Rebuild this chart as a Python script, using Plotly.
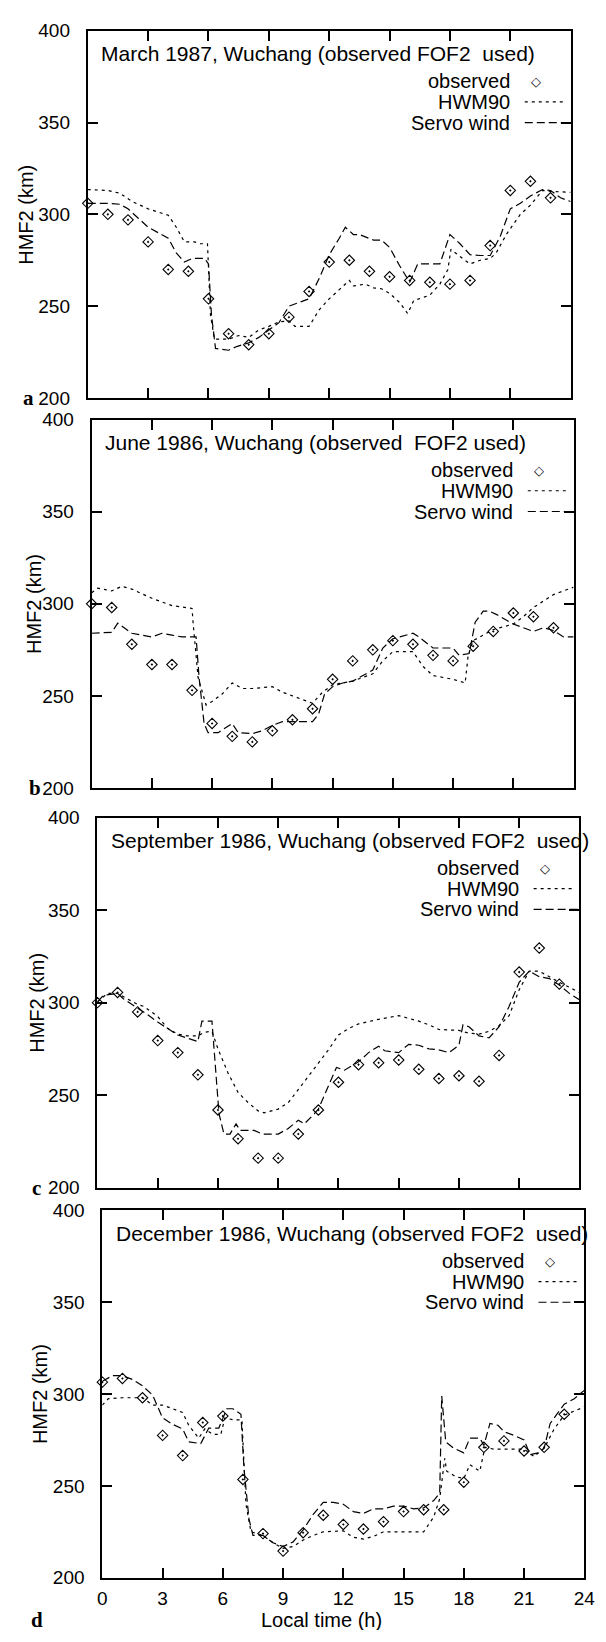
import plotly.graph_objects as go

# ---------------- data ----------------
hours = list(range(24))

# Panel a: March 1987
obs_a = [306, 300, 297, 285, 270, 269, 254, 235, 229, 235, 244, 258,
         274, 275, 269, 266, 264, 263, 262, 264, 283, 313, 318, 309]
hwm_a_x = [0, 1, 1.6, 2.2, 3, 4, 4.4, 4.8, 5.3, 5.6, 5.95, 6.1, 6.3, 7, 7.5, 8, 8.5, 9,
           9.5, 10, 10.3, 11, 11.5, 12, 12.5, 13, 13.2, 13.8, 14.2, 14.6, 15, 15.5, 15.9,
           16.2, 17, 17.5, 17.9, 18.05, 18.5, 19, 19.5, 20, 20.3, 20.8, 21.5, 22, 22.6,
           23, 24]
hwm_a_y = [313.5, 313, 311.5, 307, 303, 299.5, 293, 285, 285, 284, 284, 245, 232, 232,
           234, 233, 237, 239, 241.5, 242, 239, 239, 248, 254, 259, 264, 261, 262, 260,
           259.5, 257, 252, 246, 253, 256, 262, 270, 281, 277, 273, 275, 276, 279, 289,
           300, 305, 313, 312.5, 312]
srv_a_x = [0, 1, 1.6, 2, 2.5, 3, 4, 4.4, 4.8, 5.2, 5.8, 6.0, 6.15, 6.35, 7, 7.4, 8, 8.5,
           9, 9.5, 10, 10.5, 11, 11.5, 12, 12.5, 12.8, 13.2, 13.5, 14.2, 14.6, 15, 15.5,
           16, 16.4, 17.5, 18, 18.5, 19, 19.5, 20, 20.5, 21, 21.5, 22, 22.6, 23, 23.5, 24]
srv_a_y = [306, 306, 305.5, 303, 298, 293, 287, 279, 274, 276, 276, 273, 245, 227, 226,
           228, 230, 233, 237, 241, 250, 252, 254, 265, 278, 287, 293, 289, 289, 286,
           286, 282, 272, 263, 273, 273, 289, 284, 278, 277.6, 277.6, 288, 303, 306, 310,
           313.5, 313, 309, 307]

# Panel b: June 1986
obs_b = [300, 298, 278, 267, 267, 253, 235, 228, 225, 231, 237, 243,
         259, 269, 275, 280, 278, 272, 269, 277, 285, 295, 293, 287]
hwm_b_x = [0, 0.3, 1, 1.5, 2, 3, 4, 5, 5.05, 5.3, 5.7, 6, 6.5, 7, 7.5, 8, 9, 9.5, 10, 10.5,
           11, 11.5, 12, 12.5, 13, 14, 14.5, 15, 16, 16.5, 17, 18, 18.6, 18.75, 19, 20, 21,
           21.5, 22, 23, 24]
hwm_b_y = [306, 308.5, 307, 309.5, 308, 303, 299, 297.5, 290, 260, 245, 247, 251, 257,
           254, 254, 255, 252, 250, 248, 246, 252, 256, 257, 258, 262, 269, 274, 274, 266,
           261, 259, 257, 272, 280, 286, 289, 293, 298, 305, 309]
srv_b_x = [0, 1, 1.3, 2, 3, 3.5, 4, 4.5, 5.2, 5.35, 5.6, 5.8, 6.3, 7, 7.3, 8, 8.5, 9, 9.5,
           10, 11, 11.3, 11.6, 12, 12.5, 13, 14, 14.5, 15, 16, 16.3, 17, 17.5, 18, 18.3,
           18.8, 19.1, 19.5, 19.8, 20.2, 21, 21.5, 22, 22.5, 23, 23.5, 24]
srv_b_y = [284, 284.5, 289.5, 284, 282, 284, 283, 282, 282, 260, 235, 230, 230, 235, 230,
           229.5, 231, 234, 236, 236, 236, 240, 251, 255, 257, 258, 264, 276, 281, 284,
           282, 276, 276, 276, 272, 273, 290, 296, 296, 294, 289, 287, 285, 287, 285.5,
           282, 282]

# Panel c: September 1986
obs_c = [300, 305.5, 295, 279.5, 273, 261, 242, 226.5, 216, 216, 229, 242,
         257, 266.5, 267.5, 269, 264, 259, 260.5, 257.5, 271.5, 316.5, 329.5, 310]
hwm_c_x = [0, 0.5, 1, 2, 2.3, 3, 3.5, 4, 4.5, 5, 5.3, 5.7, 6, 6.5, 7, 7.5, 8, 8.3, 9, 9.5,
           10, 10.5, 11, 11.5, 12, 12.5, 13, 14, 15, 15.5, 16, 16.5, 17, 18, 18.5, 19,
           19.5, 20, 20.5, 21, 21.5, 22, 22.5, 23, 24]
hwm_c_y = [300.5, 305, 305, 299, 298, 292.5, 286, 283, 282, 282, 284, 284.5, 275, 262,
           251.5, 246, 241.5, 240.5, 242.5, 246, 253, 260, 267.5, 274.5, 282.5, 286,
           288.5, 291, 293, 291.5, 290, 288, 285.5, 285, 283.5, 283, 284.5, 287.5, 293,
           307, 317, 317, 314, 311, 305.5]
srv_c_x = [0, 0.3, 1, 1.3, 2, 2.5, 3, 4, 5, 5.2, 5.7, 5.9, 6.05, 6.3, 6.6, 6.9, 7.1, 7.8,
           8.2, 9, 9.5, 10, 10.3, 10.8, 11, 11.5, 11.9, 12.3, 13, 13.5, 14, 14.3, 15, 15.5,
           16, 16.5, 17, 17.5, 18, 18.2, 18.5, 19, 19.5, 20, 20.5, 21, 21.5, 22, 22.5, 23,
           23.5, 24]
srv_c_y = [300.5, 304, 305, 302, 297, 293.5, 289.5, 282.5, 279, 290, 290, 262, 240, 229,
           229, 234.5, 231, 231, 229, 229, 232, 236.5, 234.5, 240, 242.5, 255, 265, 263.5,
           268, 273, 276.5, 274, 273, 277.5, 277, 275, 274.5, 273, 277, 288, 287, 282, 281,
           287, 298, 311, 317, 314, 313, 309.5, 305, 301.5]

# Panel d: December 1986
obs_d = [306.5, 308.5, 298, 277.5, 266.5, 284.5, 288, 253.5, 224, 214.5, 224.5, 234,
         229, 226.5, 230.5, 236, 237, 237, 252, 271, 274.5, 269, 271, 289]
hwm_d_x = [0, 0.3, 1, 2, 2.5, 3, 3.5, 4, 4.3, 4.8, 5.1, 5.5, 5.9, 6.1, 6.5, 6.95, 7.15,
           7.4, 8, 8.5, 9, 9.5, 10, 10.5, 11, 12, 12.5, 13, 13.5, 14, 15, 16, 16.5, 16.8,
           17.05, 17.15, 17.6, 18, 18.3, 18.8, 19.05, 19.5, 20, 21, 21.5, 22, 22.5, 23, 24]
hwm_d_y = [294, 297.5, 298, 298, 294, 294, 292, 290, 283, 276, 281, 278, 278, 287, 286,
           286, 240, 225, 223, 219, 216, 217, 220.5, 223, 225, 225.5, 222, 221, 222.5,
           225, 225, 225, 233, 243, 265, 258, 255, 254, 261.5, 258, 271, 270, 270, 270,
           266, 270.5, 281, 288.5, 293]
srv_d_x = [0, 0.5, 1, 1.5, 2, 2.5, 3, 3.5, 4, 4.3, 4.9, 5.3, 5.8, 6.2, 6.5, 6.9, 7.05, 7.3,
           7.5, 8, 8.5, 9, 9.5, 10, 10.5, 11, 11.5, 12, 12.5, 13, 13.5, 14, 14.5, 15, 15.5,
           16, 16.5, 16.8, 16.9, 17.1, 17.5, 18, 18.3, 18.8, 19, 19.3, 19.7, 20, 20.5, 21,
           21.3, 21.7, 22, 22.3, 22.7, 23, 23.5, 24]
srv_d_y = [307, 310, 310, 308, 304.5, 299.5, 287, 283.5, 281, 274, 273, 281.5, 281.5, 292,
           292, 289, 260, 232, 223, 223, 219, 217, 219.5, 226, 234.5, 241, 241, 240, 236,
           235, 237.5, 237.5, 239, 239, 237.5, 238, 242, 246, 299, 274, 270.5, 268, 276,
           276, 272, 284, 283, 279.5, 277.5, 275, 267, 268, 270.5, 284, 290, 294.5, 297.5,
           302]

titles = [
    "March 1987, Wuchang (observed FOF2\u00a0\u00a0used)",
    "June 1986, Wuchang (observed\u00a0\u00a0FOF2 used)",
    "September 1986, Wuchang (observed FOF2\u00a0\u00a0used)",
    "December 1986, Wuchang (observed FOF2\u00a0\u00a0used)",
]
panel_letters = ["a", "b", "c", "d"]
legend_names = ["observed", "HWM90", "Servo wind"]
x_ticks = [0, 3, 6, 9, 12, 15, 18, 21, 24]
y_ticks = [200, 250, 300, 350, 400]

# ---------------- layout geometry (pixels of the 606x1642 page) ----------------
W, H = 606, 1642
x_px = [(85, 581), (89, 584), (95, 590), (100, 595)]
y_px = [(21, 393), (415, 788), (818, 1193), (1216, 1588)]
ytitle_x = [22, 30, 32, 36]
letter_x = [24, 31, 32, 33]

panels = [
    (obs_a, hwm_a_x, hwm_a_y, srv_a_x, srv_a_y),
    (obs_b, hwm_b_x, hwm_b_y, srv_b_x, srv_b_y),
    (obs_c, hwm_c_x, hwm_c_y, srv_c_x, srv_c_y),
    (obs_d, hwm_d_x, hwm_d_y, srv_d_x, srv_d_y),
]

FONT = "Liberation Sans, Arial, Helvetica, sans-serif"
fig = go.Figure()
annotations = []
shapes = []

for i, (obs, hx, hy, sx, sy) in enumerate(panels):
    n = "" if i == 0 else str(i + 1)
    xa, ya = "x" + n, "y" + n
    fig.add_trace(go.Scatter(x=hx, y=hy, mode="lines", xaxis=xa, yaxis=ya,
                             line=dict(color="black", width=1.2, dash="3px,4px"),
                             showlegend=False, name="HWM90"))
    fig.add_trace(go.Scatter(x=sx, y=sy, mode="lines", xaxis=xa, yaxis=ya,
                             line=dict(color="black", width=1.2, dash="8px,4px"),
                             showlegend=False, name="Servo wind"))
    fig.add_trace(go.Scatter(x=hours, y=obs, mode="markers", xaxis=xa, yaxis=ya,
                             marker=dict(symbol="diamond-open-dot", size=8, color="black",
                                         line=dict(width=1.1, color="black")),
                             cliponaxis=False, showlegend=False, name="observed"))

    x0, x1 = x_px[i]
    yt, yb = y_px[i]
    last = (i == 3)
    axis_common = dict(showline=True, linecolor="black", linewidth=2, mirror="ticks",
                       ticks="inside", ticklen=10, tickwidth=1.5, tickcolor="black",
                       showgrid=False, zeroline=False,
                       tickfont=dict(family=FONT, size=19, color="black"))
    fig.update_layout(**{
        ("xaxis" + n): dict(axis_common, domain=[x0 / W, x1 / W], range=[0, 24],
                            tickvals=x_ticks, showticklabels=last, anchor=ya,
                            ticklabelstandoff=3),
        ("yaxis" + n): dict(axis_common, domain=[1 - yb / H, 1 - yt / H], range=[200, 400],
                            tickvals=y_ticks, anchor=xa, ticklabelstandoff=12),
    })

    xd, yd = xa + " domain", ya + " domain"
    ph = yb - yt
    # panel title inside
    annotations.append(dict(text=titles[i], xref=xd, yref=yd, x=0.024,
                            y=1 - 23 / ph, xanchor="left", yanchor="middle",
                            showarrow=False, font=dict(family=FONT, size=21, color="black")))
    # legend texts
    rows = [1 - 51 / ph, 1 - 72 / ph, 1 - 93 / ph]
    for name, ry in zip(legend_names, rows):
        annotations.append(dict(text=name, xref=xd, yref=yd, x=0.876, y=ry,
                                xanchor="right", yanchor="middle", showarrow=False,
                                height=20, borderpad=0,
                                font=dict(family=FONT, size=20, color="black")))
    annotations.append(dict(text="\u25c7", xref=xd, yref=yd, x=0.928, y=rows[0],
                            xanchor="center", yanchor="middle", showarrow=False,
                            height=16, borderpad=0,
                            font=dict(family="DejaVu Sans", size=13, color="black")))
    shapes.append(dict(type="line", xref=xd, yref=yd, x0=0.905, x1=0.986,
                       y0=rows[1], y1=rows[1],
                       line=dict(color="black", width=1.2, dash="3px,4px")))
    shapes.append(dict(type="line", xref=xd, yref=yd, x0=0.905, x1=0.998,
                       y0=rows[2], y1=rows[2],
                       line=dict(color="black", width=1.2, dash="8px,4px")))
    # y-axis title
    annotations.append(dict(text="HMF2 (km)", xref="paper", yref=yd,
                            x=ytitle_x[i] / W, y=0.5, xanchor="center", yanchor="middle",
                            textangle=-90, showarrow=False,
                            font=dict(family=FONT, size=20, color="black")))
    # panel letter
    if not last:
        annotations.append(dict(text="<b>%s</b>" % panel_letters[i], xref="paper", yref=yd,
                                x=letter_x[i] / W, y=0, xanchor="center", yanchor="middle",
                                showarrow=False,
                                font=dict(family="Liberation Serif, serif", size=21,
                                          color="black")))
    else:
        annotations.append(dict(text="<b>%s</b>" % panel_letters[i], xref="paper",
                                yref="paper", x=letter_x[i] / W, y=1 - 1631 / H,
                                xanchor="center", yanchor="middle", showarrow=False,
                                font=dict(family="Liberation Serif, serif", size=21,
                                          color="black")))

annotations.append(dict(text="Local time (h)", xref="paper", yref="paper",
                        x=325 / W, y=1 - 1631 / H, xanchor="center", yanchor="middle",
                        showarrow=False, height=20, borderpad=0,
                        font=dict(family=FONT, size=20, color="black")))

fig.update_layout(width=W, height=H, margin=dict(l=0, r=0, t=0, b=0),
                  paper_bgcolor="white", plot_bgcolor="white",
                  annotations=annotations, shapes=shapes, showlegend=False)

fig.write_html("out.html")
